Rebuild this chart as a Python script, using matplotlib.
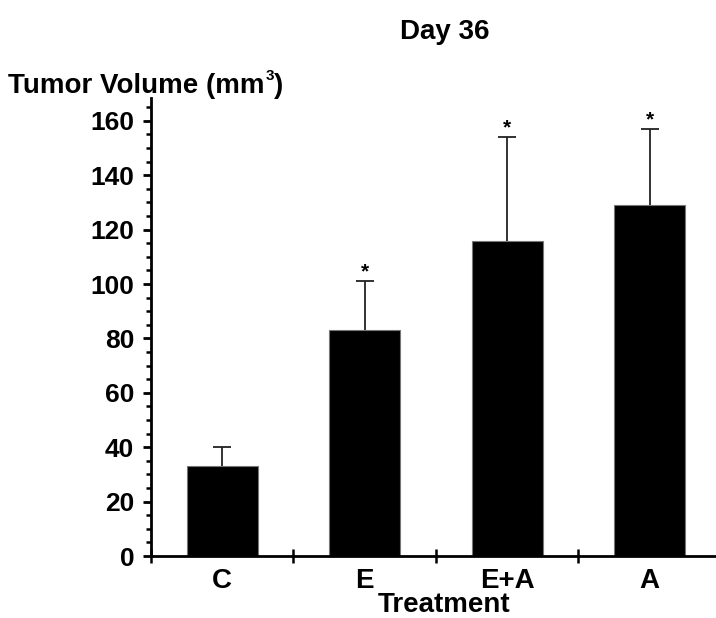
import matplotlib.pyplot as plt
from matplotlib.ticker import MultipleLocator, FixedLocator, NullFormatter
import numpy as np

plt.rcParams['font.family'] = ['Liberation Sans', 'DejaVu Sans']
plt.rcParams['font.weight'] = 'bold'
plt.rcParams['mathtext.fontset'] = 'custom'
plt.rcParams['mathtext.bf'] = 'Liberation Sans:bold'

treatments = ["C", "E", "E+A", "A"]
volume = [33, 83, 116, 129]
volume_sem = [7, 18, 38, 28]
significant = [False, True, True, True]

fig = plt.figure(figsize=(7.16, 6.18), dpi=100)
ax = fig.add_axes([151/716, 62/618, 565/716, 458/618])

x = np.arange(len(treatments))
ax.bar(x, volume, width=0.5, color='black', edgecolor='#777777', linewidth=0.8, zorder=2)
_, caps, _ = ax.errorbar(x, volume, yerr=[np.zeros(len(x)), volume_sem], fmt='none',
                         ecolor='#222222', elinewidth=1.3, capsize=6.8, capthick=1.3, zorder=1)
caps[0].set_visible(False)  # no cap on the lower (zero) side

# stars over the treated groups
for xi, v, s, sig in zip(x, volume, volume_sem, significant):
    if sig:
        ax.text(xi, v + s, "*", ha='center', va='bottom', fontsize=15, fontweight='bold')

ax.set_xlim(-0.5, 3.465)
ax.set_ylim(0, 168.4)

for side in ['top', 'right']:
    ax.spines[side].set_visible(False)
ax.spines['left'].set_linewidth(2)
ax.spines['bottom'].set_linewidth(2)

# y axis: labelled every 20, small ticks every 5
ax.yaxis.set_major_locator(MultipleLocator(20))
ax.yaxis.set_minor_locator(MultipleLocator(5))
ax.tick_params(axis='y', which='major', direction='out', length=6, width=2, pad=6, labelsize=19)
ax.tick_params(axis='y', which='minor', direction='out', length=3.5, width=1.8)

# x axis: ticks between groups, names under the bars
ax.xaxis.set_major_locator(FixedLocator([-0.5, 0.5, 1.5, 2.5, 3.5]))
ax.xaxis.set_major_formatter(NullFormatter())
ax.set_xticks(x, minor=True)
ax.set_xticklabels(treatments, minor=True)
ax.tick_params(axis='x', which='major', direction='inout', length=10, width=1.8)
ax.tick_params(axis='x', which='minor', length=0, pad=9, labelsize=20)

for lbl in ax.get_yticklabels() + ax.get_xticklabels(minor=True):
    lbl.set_fontweight('bold')

fig.text(445/716, 1 - 32/618, "Day 36", ha='center', va='center', fontsize=20, fontweight='bold')

# y title with a small raised 3
ylab = fig.text(8/716, 1 - 93/618, "Tumor Volume (mm", ha='left', va='baseline',
                fontsize=20, fontweight='bold')
fig.canvas.draw()
bb = ylab.get_window_extent()
sup = fig.text(bb.x1 / 716 + 1/716, 1 - 80/618, "3", ha='left', va='baseline',
               fontsize=11, fontweight='bold')
fig.canvas.draw()
sb = sup.get_window_extent()
fig.text(sb.x1 / 716, 1 - 93/618, ")", ha='left', va='baseline', fontsize=20, fontweight='bold')

fig.text(444/716, 1 - 605/618, "Treatment", ha='center', va='center', fontsize=20, fontweight='bold')

fig.savefig("out.png", dpi=100)
